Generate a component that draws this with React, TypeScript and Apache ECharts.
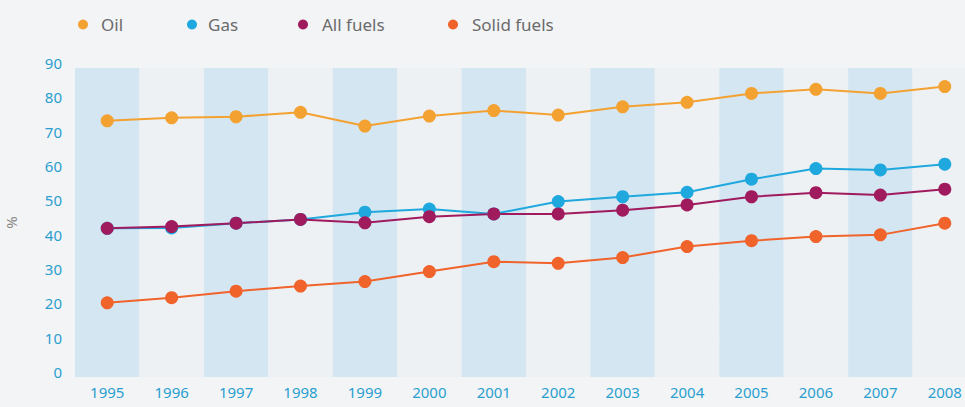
import React, { useEffect, useRef } from "react";
import * as echarts from "echarts";

const years = ["1995", "1996", "1997", "1998", "1999", "2000", "2001", "2002", "2003", "2004", "2005", "2006", "2007", "2008"];
const oil = [74.6, 75.5, 75.8, 77.1, 73.1, 76.0, 77.6, 76.3, 78.7, 80.0, 82.6, 83.8, 82.6, 84.6];
const gas = [43.3, 43.4, 44.8, 45.9, 48.0, 48.9, 47.5, 51.1, 52.5, 53.8, 57.6, 60.7, 60.3, 62.0];
const allFuels = [43.3, 43.8, 44.8, 45.9, 44.9, 46.7, 47.5, 47.5, 48.6, 50.1, 52.5, 53.7, 53.0, 54.7];
const solidFuels = [21.6, 23.1, 25.0, 26.5, 27.8, 30.7, 33.6, 33.1, 34.8, 38.0, 39.7, 40.9, 41.4, 44.8];

const seriesNames = ["Oil", "Gas", "All fuels", "Solid fuels"];
const seriesColors = ["#f3a232", "#1fa8dd", "#a01a5e", "#f0632b"];
const seriesData = [oil, gas, allFuels, solidFuels];
const legendLefts = [73, 182, 293, 443];
const legendTextGaps = [8, 6, 9, 9];

const FONT = "'Noto Sans', sans-serif";

export default function App() {
  const ref = useRef<HTMLDivElement>(null);
  useEffect(() => {
    if (!ref.current) return;
    const chart = echarts.init(ref.current, undefined, { renderer: "svg" });
    chart.setOption({
      animation: false,
      backgroundColor: "#f3f4f6",
      textStyle: { fontFamily: FONT },
      legend: seriesNames.map((n, i) => ({
        data: [n],
        left: legendLefts[i],
        top: 11,
        icon: "circle",
        itemWidth: 10,
        itemHeight: 10,
        selectedMode: false,
        textStyle: { color: "#6b6b6b", fontSize: 17, fontFamily: FONT, padding: [0, 0, 0, legendTextGaps[i]] },
      })),
      grid: { left: 75, top: 68, bottom: 30, width: 902, outerBoundsMode: "none", containLabel: false },
      xAxis: {
        type: "category",
        data: years,
        boundaryGap: true,
        axisLine: { show: false },
        axisTick: { show: false },
        axisLabel: { color: "#2a9fcf", fontSize: 15, margin: 7, fontFamily: FONT },
        splitArea: { show: true, areaStyle: { color: ["#d4e6f2", "#eef1f4"] } },
      },
      yAxis: {
        type: "value",
        min: 0,
        max: 90,
        interval: 10,
        name: "%",
        nameLocation: "middle",
        nameGap: 57,
        nameRotate: 90,
        nameTextStyle: { color: "#888", fontSize: 15, fontFamily: FONT },
        axisLine: { show: false },
        axisTick: { show: false },
        axisLabel: { color: "#2a9fcf", fontSize: 15, margin: 13, verticalAlign: "bottom", lineHeight: 10, fontFamily: FONT },
        splitLine: {
          show: true,
          showMinLine: false,
          showMaxLine: false,
          lineStyle: { color: "rgba(255,255,255,0.7)", type: "dashed", width: 1 },
        },
      },
      series: seriesNames.map((n, i) => ({
        name: n,
        type: "line",
        data: seriesData[i],
        symbol: "circle",
        symbolSize: 13,
        lineStyle: { color: seriesColors[i], width: 2 },
        itemStyle: { color: seriesColors[i] },
      })),
    });
    return () => chart.dispose();
  }, []);
  return <div ref={ref} style={{ position: "fixed", left: 0, top: 0, width: 965, height: 407 }} />;
}
